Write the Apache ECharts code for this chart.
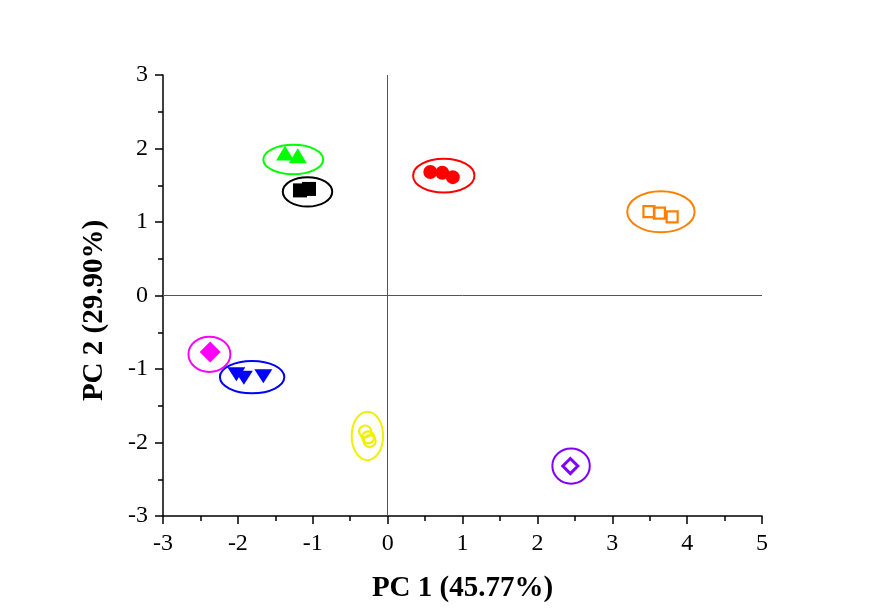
<!DOCTYPE html>
<html>
<head>
<meta charset="utf-8">
<script src="https://cdn.jsdelivr.net/npm/echarts@6/dist/echarts.min.js"></script>
<style>
  html, body { margin: 0; padding: 0; background: #fff; }
  #chart { width: 870px; height: 608px; }
</style>
</head>
<body>
<div id="chart"></div>
<script>
// PCA scores
const greenTri = [[-1.37, 1.94], [-1.20, 1.90]]
const blackSq = [[-1.17, 1.43], [-1.05, 1.45]]
const redCircle = [[0.57, 1.68], [0.73, 1.67], [0.87, 1.61]]
const orangeSq = [[3.49, 1.14], [3.63, 1.12], [3.80, 1.07]]
const magentaDia = [[-2.37, -0.77]]
const blueTri = [[-2.02, -1.07], [-1.92, -1.12], [-1.66, -1.10]]
const yellowCircle = [[-0.30, -1.85], [-0.26, -1.93], [-0.24, -1.98]]
const purpleDia = [[2.44, -2.32]]

// cluster ellipses: [cx, cy, rx, ry] in data units
const ellipses = [
  [-1.26, 1.85, 0.40, 0.20, '#00FF00'],
  [-1.07, 1.41, 0.33, 0.20, '#000000'],
  [0.75, 1.63, 0.41, 0.23, '#FF0000'],
  [3.65, 1.14, 0.45, 0.28, '#FF8000'],
  [-2.38, -0.80, 0.28, 0.24, '#FF00FF'],
  [-1.81, -1.11, 0.43, 0.22, '#0000FF'],
  [-0.27, -1.91, 0.21, 0.33, '#F0F000'],
  [2.45, -2.32, 0.25, 0.24, '#8000FF']
]

const xTicks = { min: -3, max: 5, interval: 1 }
const yTicks = { min: -3, max: 3, interval: 1 }

const font = '"Liberation Serif", "Times New Roman", serif'

function axisBase () {
  return {
    axisLine: { show: true, onZero: false, lineStyle: { color: '#000', width: 1.5 } },
    axisTick: { show: true, inside: false, length: 8, lineStyle: { color: '#000', width: 1.5 } },
    minorTick: { show: true, splitNumber: 2, length: 5, lineStyle: { color: '#000', width: 1.5 } },
    splitLine: { show: false },
    axisLabel: { color: '#000', fontFamily: font, fontSize: 24 },
    nameTextStyle: { color: '#000', fontFamily: font, fontSize: 29, fontWeight: 'bold' },
    nameLocation: 'middle'
  }
}

function scatter (data, symbol, size, color, hollow, extra) {
  return Object.assign({
    type: 'scatter',
    data: data,
    symbol: symbol,
    symbolSize: size,
    z: 5,
    itemStyle: hollow
      ? { color: 'rgba(255,255,255,0)', borderColor: color, borderWidth: 2.2, opacity: 1 }
      : { color: color, opacity: 1 },
    emphasis: { disabled: true }
  }, extra || {})
}

const chart = echarts.init(document.getElementById('chart'))
chart.setOption({
  backgroundColor: '#fff',
  animation: false,
  grid: { left: 163, right: 108, top: 75, bottom: 91 },
  xAxis: Object.assign(axisBase(), {
    type: 'value',
    min: xTicks.min, max: xTicks.max, interval: xTicks.interval,
    name: 'PC 1 (45.77%)',
    nameGap: 58,
    axisLabel: Object.assign(axisBase().axisLabel, { margin: 16 })
  }),
  yAxis: Object.assign(axisBase(), {
    type: 'value',
    min: yTicks.min, max: yTicks.max, interval: yTicks.interval,
    name: 'PC 2 (29.90%)',
    nameGap: 54,
    nameTextStyle: Object.assign(axisBase().nameTextStyle, { padding: [0, 30, 0, 0] }),
    axisLabel: Object.assign(axisBase().axisLabel, { margin: 15 })
  }),
  series: [
    {
      type: 'custom',
      z: 3,
      silent: true,
      data: ellipses,
      renderItem: (params, api) => {
        const c = api.coord([api.value(0), api.value(1)])
        const s = api.size([api.value(2), api.value(3)])
        const e = ellipses[params.dataIndex]
        return {
          type: 'ellipse',
          shape: { cx: c[0], cy: c[1], rx: s[0], ry: s[1] },
          style: { fill: 'none', stroke: e[4], lineWidth: 2 }
        }
      },
      markLine: {
        silent: true,
        symbol: 'none',
        label: { show: false },
        lineStyle: { color: '#555', width: 1, type: 'solid' },
        data: [{ xAxis: 0 }, { yAxis: 0 }]
      }
    },
    scatter(greenTri, 'triangle', [18, 15], '#00FF00'),
    scatter(blackSq, 'rect', 14, '#000000'),
    scatter(redCircle, 'circle', 14, '#FF0000'),
    scatter(orangeSq, 'rect', 11, '#FF8000', true),
    scatter(magentaDia, 'diamond', 21, '#FF00FF'),
    scatter(blueTri, 'triangle', [18, 14], '#0000FF', false, { symbolRotate: 180 }),
    scatter(yellowCircle, 'circle', 12, '#F0F000', true),
    scatter(purpleDia, 'diamond', 15, '#8000FF', true, { itemStyle: { color: 'rgba(255,255,255,0)', borderColor: '#8000FF', borderWidth: 3, opacity: 1 } })
  ]
})
</script>
</body>
</html>
